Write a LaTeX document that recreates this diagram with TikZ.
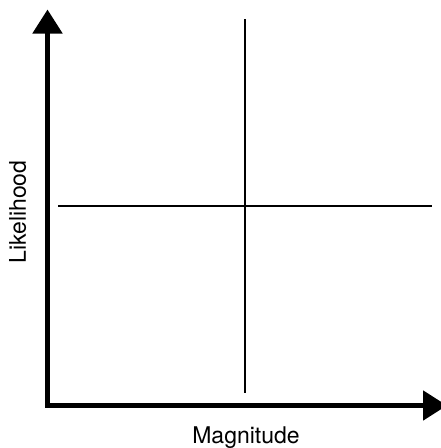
\documentclass[tikz,border=0pt]{standalone}
\usepackage{fontspec}
\setmainfont{TeX Gyre Heros}
\usetikzlibrary{arrows.meta}
\begin{document}
\begin{tikzpicture}[x=1pt,y=1pt,
  axis/.style={line width=5pt, {Triangle[length=24pt,width=29pt]}-{Triangle[length=24pt,width=29pt]}},
  divider/.style={line width=2pt},
  lbl/.style={font=\fontsize{23}{27}\selectfont, inner sep=0pt}]
\useasboundingbox (0,0) rectangle (441,-448);
\coordinate (ytop) at (47.5,-9.5);
\coordinate (origin) at (47.5,-405.5);
\coordinate (xend) at (447,-405.5);
\draw[axis] (ytop) -- (origin) -- (xend);
\coordinate (vtop) at (244.5,-19);
\coordinate (vbot) at (244.5,-392.5);
\coordinate (hl) at (58,-206.3);
\coordinate (hr) at (431.7,-206.3);
\draw[divider] (vtop) -- (vbot);
\draw[divider] (hl) -- (hr);
\node[lbl, anchor=base] (mag) at (246,-443.3) {Magnitude};
\node[lbl, anchor=base, rotate=90] (lik) at (26,-212) {Likelihood};
\end{tikzpicture}
\end{document}
